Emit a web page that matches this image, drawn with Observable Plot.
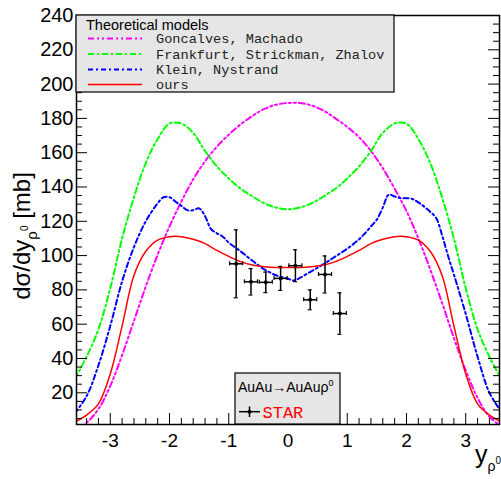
<!DOCTYPE html>
<html><head><meta charset="utf-8">
<script src="https://cdn.jsdelivr.net/npm/d3@7"></script>
<script src="https://cdn.jsdelivr.net/npm/@observablehq/plot@0.6"></script>
<style>
body{margin:0;background:#fff}
#chart{position:relative;width:501px;height:479px}
</style>
</head><body><div id="chart"></div>
<script>
// ---- data ----
const xGrid = [-3.6,-3.4,-3.2,-3.0,-2.8,-2.6,-2.4,-2.2,-2.0,-1.8,-1.6,-1.4,-1.2,-1.0,-0.8,-0.6,-0.4,-0.2,0.0,
               0.2,0.4,0.6,0.8,1.0,1.2,1.4,1.6,1.8,2.0,2.2,2.4,2.6,2.8,3.0,3.2,3.4,3.6];
const goncalves = [-2,2.5,10.5,24,42,62,82,100.5,117,131.5,144.5,155,163.5,170.5,176.5,181.5,185.5,188,189,
                   189,187.5,184.5,180,175,169,161,151,139,126,110,92,72.5,52,33,17,6,0.5];
const frankfurt = [28,41,57,81,110,134,154,168,177,177,171.5,161,152,145,139,134.5,130.5,128,127,
                   128,130.5,134.5,139,145,152,161,171.5,177,177,168,154,134,110,81,57,41,28];
const ours = [3,7,13.5,31,59,88.5,102.5,109,111,111,109.5,107,103,99.5,96.5,94.5,93.5,93,93,
              93,93.5,94.5,96.5,99.5,103,107,109.5,111,111,109,102.5,88.5,59,31,13.5,7,3];
const kleinX = [-3.6,-3.4,-3.2,-3.0,-2.8,-2.6,-2.4,-2.2,-2.1,-2.0,-1.9,-1.8,-1.7,-1.6,-1.5,-1.4,-1.3,-1.2,-1.1,-1.0,
                -0.8,-0.6,-0.4,-0.2,0.0,0.1,0.2,0.4,0.6,0.8,1.0,1.2,1.3,1.4,1.5,1.6,1.7,1.8,1.9,2.0,2.1,2.2,2.3,2.4,2.5,2.6,2.7,2.8,
                3.0,3.2,3.4,3.6];
const klein = [8,18,36,59,85,105,120,130.5,134,134,131.5,129,126.5,126.5,127.5,123,115.5,113,111,107.5,
               102.5,97,92,88.5,86.5,85.5,87,91,95,99.5,104,109.5,113,117,121,128,135.5,134.5,133.5,133.5,133,131,128.5,125.5,122,112,100,89,
               66,41,20,9];
const starX = [-0.875,-0.625,-0.375,-0.125,0.125,0.375,0.625,0.875];
const starY = [95.2,84.7,84.4,86.7,94.1,74.2,89.0,66.2];
const starErrY = [19.8,7.7,6.0,7.0,9.3,5.8,10.8,12.1];
const starErrX = [0.11,0.11,0.11,0.11,0.11,0.11,0.11,0.11];
const xTickLabels = [-3,-2,-1,0,1,2,3];
const yTickLabels = [20,40,60,80,100,120,140,160,180,200,220,240];
const modelNames = ["Goncalves, Machado","Frankfurt, Strickman, Zhalov","Klein, Nystrand","ours"];

// ---- layout ----
const W = 501, H = 479, mL = 76, mR = 2, mT = 15, mB = 55;
const pw = W - mL - mR, ph = H - mT - mB;
const xMinor = d3.range(-3.4, 3.41, 0.2).filter(v => Math.abs(v - Math.round(v)) > 0.05);
const yMinor = d3.range(5, 240, 5).filter(v => v % 20 !== 0);

const styles = [
  {color: "#ff00ff", dash: "6,3,2,3,2,3", width: 2},
  {color: "#00ff00", dash: "6,3,2,3", width: 2},
  {color: "#0000ff", dash: "5,3,2,3", width: 2},
  {color: "#ff0000", dash: null, width: 1.5}
];
const series = [
  xGrid.map((x, i) => ({x, y: goncalves[i]})),
  xGrid.map((x, i) => ({x, y: frankfurt[i]})),
  kleinX.map((x, i) => ({x, y: klein[i]})),
  xGrid.map((x, i) => ({x, y: ours[i]}))
];
const star = starX.map((x, i) => ({x, y: starY[i], e: starErrY[i], xe: starErrX[i]}));

const lineMarks = series.map((s, k) => Plot.line(s, {
  x: "x", y: "y", stroke: styles[k].color, strokeWidth: styles[k].width,
  strokeDasharray: styles[k].dash, curve: "catmull-rom", clip: true
}));

const chart = Plot.plot({
  width: W, height: H,
  marginLeft: mL, marginRight: mR, marginTop: mT, marginBottom: mB,
  style: {fontFamily: "'Liberation Sans', Arial, sans-serif", fontSize: "20px", background: "#fff", color: "black"},
  x: {domain: [-3.57, 3.57]},
  y: {domain: [1.5, 240]},
  marks: [
    ...lineMarks,
    Plot.ruleX(star, {x: "x", y1: d => d.y - d.e, y2: d => d.y + d.e, stroke: "black", strokeWidth: 1.5}),
    Plot.ruleY(star, {y: "y", x1: d => d.x - d.xe, x2: d => d.x + d.xe, stroke: "black", strokeWidth: 1.5}),
    Plot.ruleY(star, {y: d => d.y + d.e, x1: "x", x2: "x", insetLeft: -2, insetRight: -2, stroke: "black", strokeWidth: 1.2}),
    Plot.ruleY(star, {y: d => d.y - d.e, x1: "x", x2: "x", insetLeft: -2, insetRight: -2, stroke: "black", strokeWidth: 1.2}),
    Plot.ruleX(star, {x: d => d.x - d.xe, y1: "y", y2: "y", insetTop: -2, insetBottom: -2, stroke: "black", strokeWidth: 1.2}),
    Plot.ruleX(star, {x: d => d.x + d.xe, y1: "y", y2: "y", insetTop: -2, insetBottom: -2, stroke: "black", strokeWidth: 1.2}),
    Plot.dot(star, {x: "x", y: "y", r: 2, fill: "black"}),
    Plot.ruleX(xTickLabels, {x: d => d, insetTop: ph - 11, stroke: "black"}),
    Plot.ruleX(xMinor, {x: d => d, insetTop: ph - 6, stroke: "black"}),
    Plot.ruleY(yTickLabels, {y: d => d, insetRight: pw - 11, stroke: "black"}),
    Plot.ruleY(yMinor, {y: d => d, insetRight: pw - 6, stroke: "black"}),
    Plot.ruleY(yTickLabels, {y: d => d, insetLeft: pw - 11, stroke: "black"}),
    Plot.ruleY(yMinor, {y: d => d, insetLeft: pw - 6, stroke: "black"}),
    Plot.axisX({ticks: xTickLabels, tickSize: 0, tickPadding: 9, tickFormat: d => String(d), label: null, fontSize: 19}),
    Plot.axisY({ticks: yTickLabels, tickSize: 0, tickPadding: 3, tickFormat: d => String(d), label: null, fontSize: 20}),
    Plot.frame({stroke: "black", strokeWidth: 1.5})
  ]
});
document.getElementById("chart").appendChild(chart);

// ---- legends & titles ----
const svg = d3.select(chart);
const sans = "'Liberation Sans', Arial, sans-serif";
const mono = "'Liberation Mono', 'DejaVu Sans Mono', monospace";

const lg = svg.append("g").attr("text-anchor", "start");
lg.append("rect").attr("x", 76).attr("y", 15).attr("width", 318).attr("height", 77)
  .attr("fill", "#e6e6e6").attr("stroke", "black").attr("stroke-width", 1.2);
lg.append("text").attr("x", 86).attr("y", 29.5).attr("text-anchor", "start").attr("font-family", sans).attr("font-size", 14.5)
  .attr("fill", "black").text("Theoretical models");
const rowsY = [38.5, 54, 69.5, 84.5];
modelNames.forEach((name, k) => {
  lg.append("line").attr("x1", 88).attr("x2", 142).attr("y1", rowsY[k]).attr("y2", rowsY[k])
    .attr("stroke", styles[k].color).attr("stroke-width", styles[k].width)
    .attr("stroke-dasharray", styles[k].dash);
  lg.append("text").attr("x", 156).attr("y", rowsY[k]).attr("dy", "0.35em").attr("text-anchor", "start")
    .attr("font-family", mono).attr("font-size", 13.6).attr("fill", "#222").text(name);
});

const sg = svg.append("g").attr("text-anchor", "start");
sg.append("rect").attr("x", 235).attr("y", 373).attr("width", 105).attr("height", 51)
  .attr("fill", "#e6e6e6").attr("stroke", "black").attr("stroke-width", 1.2);
const t1 = sg.append("text").attr("x", 238).attr("y", 391.5).attr("text-anchor", "start")
  .attr("font-family", sans).attr("font-size", 14).attr("fill", "black");
t1.append("tspan").text("AuAu→AuAuρ");
t1.append("tspan").attr("font-size", 9).attr("dy", -6).text("0");
sg.append("line").attr("x1", 239).attr("x2", 260).attr("y1", 411.7).attr("y2", 411.7).attr("stroke", "black").attr("stroke-width", 1.5);
sg.append("line").attr("x1", 249.5).attr("x2", 249.5).attr("y1", 406.5).attr("y2", 417).attr("stroke", "black").attr("stroke-width", 1.5);
sg.append("circle").attr("cx", 249.5).attr("cy", 411.7).attr("r", 2).attr("fill", "black");
sg.append("text").attr("x", 262.5).attr("y", 417.5).attr("text-anchor", "start").attr("font-family", mono).attr("font-size", 17)
  .attr("fill", "#ff0000").text("STAR");

// y title
const yt = svg.append("text").attr("transform", "translate(30,236) rotate(-90)")
  .attr("text-anchor", "middle").attr("font-family", sans).attr("font-size", 24).attr("fill", "black");
yt.append("tspan").text("dσ/dy");
yt.append("tspan").attr("font-size", 15).attr("dy", 7).text("ρ");
yt.append("tspan").attr("font-size", 10).attr("dy", -9).text("0");
yt.append("tspan").attr("font-size", 24).attr("dy", 2).text(" [mb]");

// x title
const xt = svg.append("text").attr("x", 475).attr("y", 463).attr("text-anchor", "start")
  .attr("font-family", sans).attr("font-size", 25).attr("fill", "black");
xt.append("tspan").text("y");
xt.append("tspan").attr("font-size", 14).attr("dy", 8).text("ρ");
xt.append("tspan").attr("font-size", 10).attr("dy", -7).text("0");
</script>
</body></html>
